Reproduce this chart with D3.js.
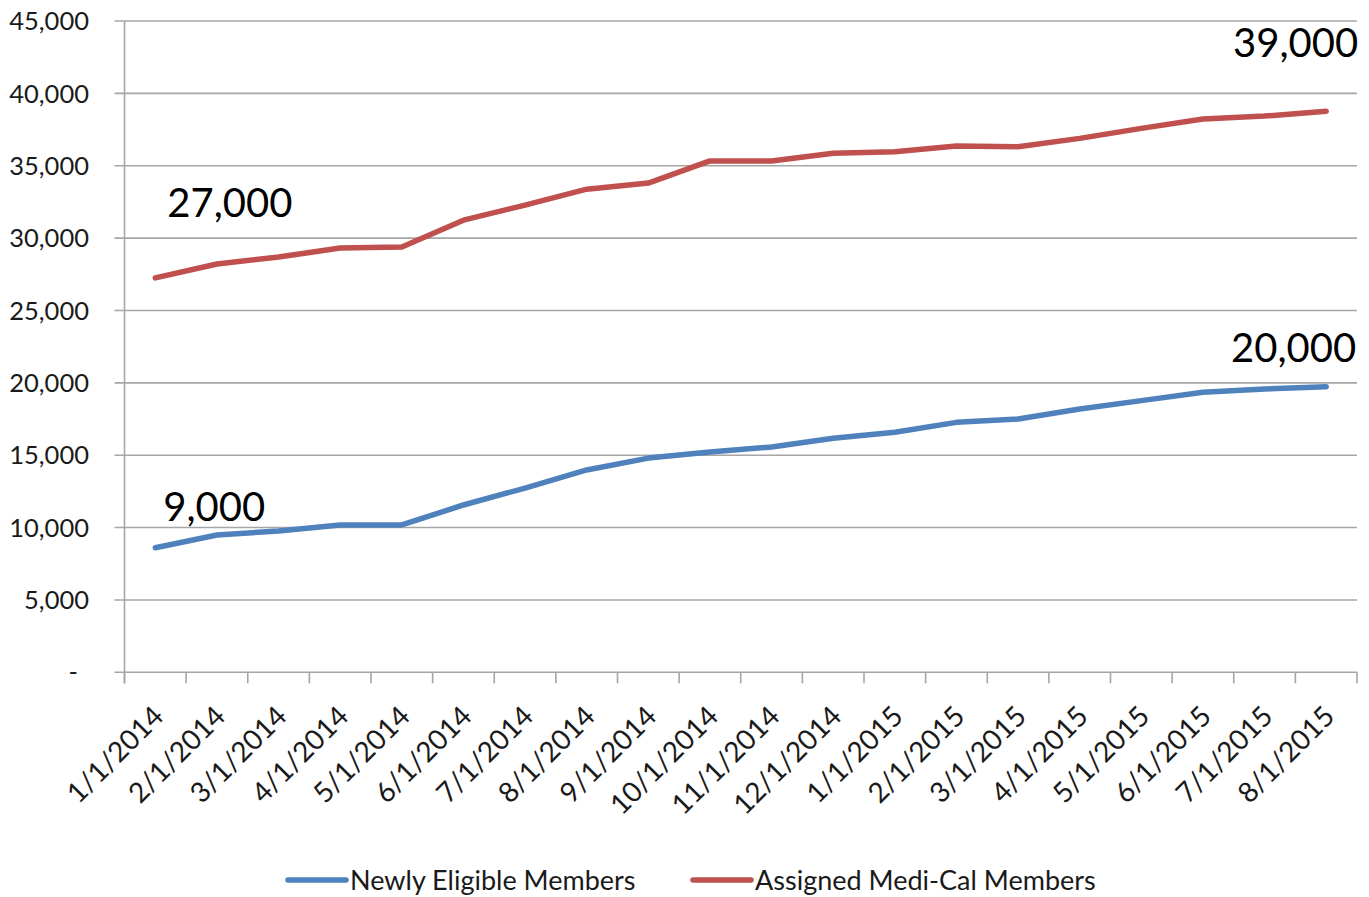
<!DOCTYPE html>
<html>
<head>
<meta charset="utf-8">
<script src="https://cdn.jsdelivr.net/npm/d3@7"></script>
<style>
  html, body { margin: 0; padding: 0; background: #ffffff; }
  svg { display: block; }
  text { font-family: Lato, "Liberation Sans", Arial, sans-serif; }
</style>
</head>
<body>
<svg id="chart" width="1369" height="897"></svg>
<script>
// ---- data ----
const categories = ["1/1/2014","2/1/2014","3/1/2014","4/1/2014","5/1/2014","6/1/2014","7/1/2014","8/1/2014","9/1/2014","10/1/2014","11/1/2014","12/1/2014","1/1/2015","2/1/2015","3/1/2015","4/1/2015","5/1/2015","6/1/2015","7/1/2015","8/1/2015"];
const newlyEligible = [8610, 9490, 9760, 10180, 10180, 11560, 12730, 13980, 14800, 15220, 15570, 16170, 16580, 17270, 17500, 18190, 18770, 19350, 19570, 19730];
const assignedMediCal = [27250, 28210, 28690, 29310, 29380, 31240, 32280, 33380, 33800, 35330, 35330, 35860, 35970, 36360, 36310, 36890, 37580, 38230, 38430, 38760];
const seriesNames = ["Newly Eligible Members", "Assigned Medi-Cal Members"];
const yTicks = [0, 5000, 10000, 15000, 20000, 25000, 30000, 35000, 40000, 45000];
const annotationTexts = ["9,000", "27,000", "20,000", "39,000"];

(function () {
// ---- layout ----
const svg = d3.select("#chart");
const pLeft = 124.5, pRight = 1357, pTop = 21, pBottom = 672.3;
const x = d3.scaleBand().domain(categories).range([pLeft, pRight]).paddingInner(0).paddingOuter(0);
const y = d3.scaleLinear().domain([0, 45000]).range([pBottom, pTop]);
const colors = ["#4F81BD", "#C0504D"];
const gridColor = "#A6A6A6";

// gridlines + y ticks
svg.append("g").selectAll("line").data(yTicks).join("line")
  .attr("x1", pLeft - 10).attr("x2", pRight)
  .attr("y1", d => y(d)).attr("y2", d => y(d))
  .attr("stroke", gridColor).attr("stroke-width", 1.6);

// y axis line
svg.append("line").attr("x1", pLeft).attr("x2", pLeft).attr("y1", pTop).attr("y2", pBottom + 11)
  .attr("stroke", gridColor).attr("stroke-width", 1.6);

// x ticks at band boundaries
const bounds = categories.map(c => x(c)).concat([pRight]);
svg.append("g").selectAll("line").data(bounds).join("line")
  .attr("x1", d => d).attr("x2", d => d)
  .attr("y1", pBottom).attr("y2", pBottom + 11)
  .attr("stroke", gridColor).attr("stroke-width", 1.6);

// y labels
const fmt = d3.format(",");
svg.append("g").selectAll("text").data(yTicks).join("text")
  .attr("x", d => d === 0 ? 78 : 89)
  .attr("y", d => y(d))
  .attr("dy", "0.36em")
  .attr("text-anchor", "end")
  .attr("font-size", 25.5)
  .attr("fill", "#1a1a1a")
  .text(d => d === 0 ? "-" : fmt(d));

// x labels
svg.append("g").selectAll("text").data(categories).join("text")
  .attr("text-anchor", "end")
  .attr("font-size", 28)
  .attr("fill", "#1a1a1a")
  .attr("transform", d => `translate(${x(d) + x.bandwidth() / 2 + 10},${718}) rotate(-45)`)
  .text(d => d);

// lines
const line = d3.line().x((d, i) => x(categories[i]) + x.bandwidth() / 2).y(d => y(d));
[newlyEligible, assignedMediCal].forEach((vals, k) => {
  svg.append("path").datum(vals)
    .attr("d", line)
    .attr("fill", "none")
    .attr("stroke", colors[k])
    .attr("stroke-width", 5.5)
    .attr("stroke-linejoin", "round")
    .attr("stroke-linecap", "round");
});

// annotations anchored to first/last points
const seriesVals = [newlyEligible, assignedMediCal];
const annLayout = [
  { s: 0, i: 0, dx: 8, dy: -27, anchor: "start" },
  { s: 1, i: 0, dx: 12, dy: -61, anchor: "start" },
  { s: 0, i: categories.length - 1, dx: 30, dy: -25, anchor: "end" },
  { s: 1, i: categories.length - 1, dx: 32, dy: -54, anchor: "end" }
];
svg.append("g").selectAll("text").data(annotationTexts).join("text")
  .attr("x", (d, j) => x(categories[annLayout[j].i]) + x.bandwidth() / 2 + annLayout[j].dx)
  .attr("y", (d, j) => y(seriesVals[annLayout[j].s][annLayout[j].i]) + annLayout[j].dy)
  .attr("text-anchor", (d, j) => annLayout[j].anchor)
  .attr("font-size", 40)
  .attr("fill", "#000")
  .text(d => d);

// legend
const legendItems = [
  { name: seriesNames[0], color: colors[0], x0: 288 },
  { name: seriesNames[1], color: colors[1], x0: 693 }
];
const lg = svg.append("g").selectAll("g").data(legendItems).join("g");
lg.append("line")
  .attr("x1", d => d.x0).attr("x2", d => d.x0 + 58)
  .attr("y1", 880).attr("y2", 880)
  .attr("stroke", d => d.color).attr("stroke-width", 5.5)
  .attr("stroke-linecap", "round");
lg.append("text")
  .attr("x", d => d.x0 + 62).attr("y", 880).attr("dy", "0.36em")
  .attr("font-size", 27).attr("fill", "#1a1a1a")
  .text(d => d.name);
})();
</script>
</body>
</html>
